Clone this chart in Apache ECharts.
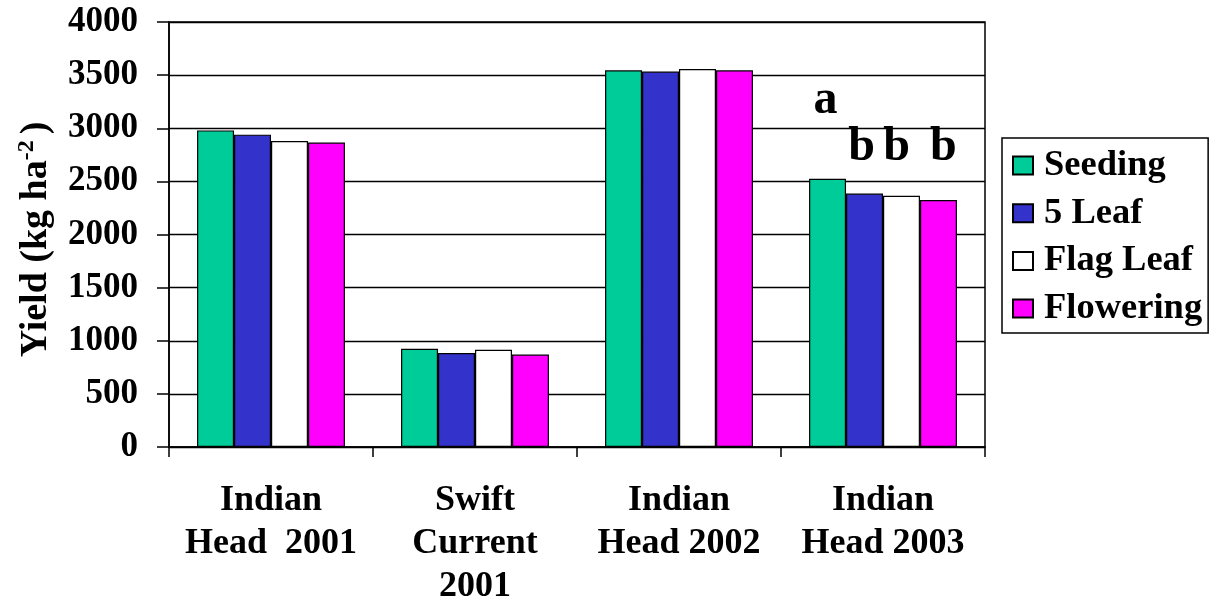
<!DOCTYPE html>
<html>
<head>
<meta charset="utf-8">
<script src="https://cdn.jsdelivr.net/npm/echarts@6/dist/echarts.min.js"></script>
<style>
html,body{margin:0;padding:0;background:#fff;}
#chart{width:1216px;height:604px;}
</style>
</head>
<body>
<div id="chart"></div>
<script>
const categories = ['Indian\nHead  2001', 'Swift\nCurrent\n2001', 'Indian\nHead 2002', 'Indian\nHead 2003'];
const seriesNames = ['Seeding', '5 Leaf', 'Flag Leaf', 'Flowering'];
const seeding = [2980, 925, 3545, 2525];
const fiveLeaf = [2940, 885, 3533, 2385];
const flagLeaf = [2880, 916, 3558, 2365];
const flowering = [2865, 870, 3545, 2325];
const seedingLetters = ['', '', '', 'a'];
const fiveLeafLetters = ['', '', '', 'b'];
const flagLeafLetters = ['', '', '', 'b'];
const floweringLetters = ['', '', '', 'b'];
const yTicks = [0, 500, 1000, 1500, 2000, 2500, 3000, 3500, 4000];

const FONT = "'Liberation Serif', 'Times New Roman', serif";
const colors = ['#00CC99', '#3333CC', '#FFFFFF', '#FF00FF'];
const values = [seeding, fiveLeaf, flagLeaf, flowering];
const letters = [seedingLetters, fiveLeafLetters, flagLeafLetters, floweringLetters];
// label placement style (not data)
const letterDistance = [54, 22, 24, 28];
const letterOffsetX = [-2, -3, -5, 5];

const chart = echarts.init(document.getElementById('chart'), null, {renderer: 'canvas'});

const series = seriesNames.map((name, s) => ({
  name: name,
  type: 'bar',
  barGap: '0%',
  barCategoryGap: '27.5%',
  itemStyle: {color: colors[s], borderColor: '#000', borderWidth: 1.2},
  emphasis: {disabled: true},
  data: values[s].map((v, i) => ({
    value: v,
    label: {
      show: letters[s][i] !== '',
      position: 'top',
      distance: letterDistance[s],
      offset: [letterOffsetX[s], 0],
      formatter: letters[s][i],
      fontFamily: FONT,
      fontWeight: 'bold',
      fontSize: 48,
      color: '#000'
    }
  }))
}));

chart.setOption({
  animation: false,
  backgroundColor: '#fff',
  grid: {left: 169, right: 231, top: 22, bottom: 157, outerBoundsMode: 'none', containLabel: false, show: true, borderColor: '#000', borderWidth: 1.5, backgroundColor: 'transparent'},
  legend: {
    orient: 'vertical',
    left: 1002,
    top: 138,
    width: 211,
    padding: [9, 6, 6, 10],
    itemGap: 10.7,
    itemWidth: 20,
    itemHeight: 18,
    icon: 'rect',
    borderColor: '#000',
    borderWidth: 1.5,
    selectedMode: false,
    textStyle: {fontFamily: FONT, fontWeight: 'bold', fontSize: 36.5, color: '#000', padding: [0, 0, 0, 6]},
    data: seriesNames
  },
  xAxis: {
    type: 'category',
    data: categories,
    axisLine: {lineStyle: {color: '#000', width: 1.5}},
    axisTick: {show: true, length: 10, alignWithLabel: false, lineStyle: {color: '#000', width: 1.5}},
    axisLabel: {fontFamily: FONT, fontWeight: 'bold', fontSize: 36, lineHeight: 43, color: '#000', margin: 32, interval: 0}
  },
  yAxis: {
    type: 'value',
    min: yTicks[0],
    max: yTicks[yTicks.length - 1],
    interval: yTicks[1] - yTicks[0],
    name: '{b|Yield (kg ha}{sup|-2}{b|)}',
    nameLocation: 'middle',
    nameRotate: 90,
    nameGap: 112,
    nameTextStyle: {
      padding: [0, 10, 0, 0],
      rich: {
        b: {fontFamily: FONT, fontWeight: 'bold', fontSize: 38, color: '#000'},
        sup: {fontFamily: FONT, fontWeight: 'bold', fontSize: 24, color: '#000', verticalAlign: 'top', padding: [0, 6, 18, 0]}
      }
    },
    axisLine: {show: true, lineStyle: {color: '#000', width: 1.5}},
    axisTick: {show: true, length: 12, lineStyle: {color: '#000', width: 1.5}},
    splitLine: {show: true, lineStyle: {color: '#000', width: 1.3}},
    axisLabel: {fontFamily: FONT, fontWeight: 'bold', fontSize: 35, color: '#000', margin: 31, formatter: (v) => String(v)}
  },
  series: series
});
</script>
</body>
</html>
